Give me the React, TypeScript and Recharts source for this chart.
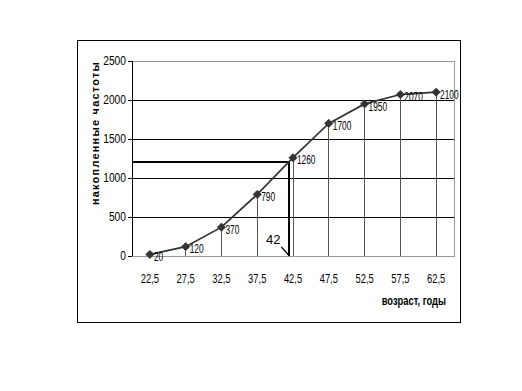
import React from 'react';
import {
  LineChart,
  Line,
  XAxis,
  YAxis,
  ReferenceLine,
  ReferenceArea,
  ReferenceDot,
  LabelList,
} from 'recharts';

const ages = [22.5, 27.5, 32.5, 37.5, 42.5, 47.5, 52.5, 57.5, 62.5];
const ageLabels = ['22,5', '27,5', '32,5', '37,5', '42,5', '47,5', '52,5', '57,5', '62,5'];
const cumulative = [20, 120, 370, 790, 1260, 1700, 1950, 2070, 2100];
const yTicks = [0, 500, 1000, 1500, 2000, 2500];
const gridValues = [500, 1000, 1500, 2000];
const classBounds = [20, 25, 30, 35, 40, 45, 50, 55, 60, 65];
const medianAge = 42;
const medianLabel = '42';
const halfCount = 1200;
const yTitle = 'накопленные частоты';
const xTitle = 'возраст, годы';

const data = ages.map((a, i) => ({ age: a, value: cumulative[i] }));

const SANS = "'Liberation Sans', Arial, sans-serif";

const CondensedText = (p: any) => (
  <text
    transform={`translate(${p.x},${p.y}) scale(${p.sx},1)`}
    x={0}
    y={0}
    textAnchor={p.anchor || 'start'}
    dominantBaseline={p.baseline || 'central'}
    fontSize={p.size || 12}
    fontWeight={p.bold ? 'bold' : 'normal'}
    fontFamily={SANS}
    fill="#000"
  >
    {p.children}
  </text>
);

const Diamond = (props: any) => {
  const { cx, cy } = props;
  if (cx == null || cy == null) return null;
  const s = 4;
  return (
    <path
      d={`M${cx},${cy - s}L${cx + s},${cy}L${cx},${cy + s}L${cx - s},${cy}Z`}
      fill="#333"
      stroke="#333"
    />
  );
};

const ValueLabel = (props: any) => {
  const { x, y, value } = props;
  return (
    <CondensedText x={x + 4} y={y + 2} sx={0.64} size={13}>
      {value}
    </CondensedText>
  );
};

const YTick = (props: any) => (
  <CondensedText x={props.x} y={props.y} sx={0.82} size={12.5} anchor="end">
    {props.payload.value}
  </CondensedText>
);

const XTick = (props: any) => {
  const v = props.payload.value;
  const label = ageLabels[ages.indexOf(v)] ?? String(v);
  return (
    <CondensedText x={props.x} y={props.y} sx={0.75} size={12.5} anchor="middle">
      {label}
    </CondensedText>
  );
};

const MedianCallout = (props: any) => {
  const vb = props.viewBox || {};
  const cx = vb.x + (vb.width || 0) / 2;
  const cy = vb.y + (vb.height || 0) / 2;
  return (
    <g>
      <line x1={cx - 8} y1={cy - 9} x2={cx} y2={cy} stroke="#000" strokeWidth={1.2} />
      <text x={cx - 9} y={cy - 12} textAnchor="end" fontSize={13} fontFamily={SANS} fill="#000">
        {medianLabel}
      </text>
    </g>
  );
};

export default function App() {
  return (
    <div style={{ position: 'absolute', left: 0, top: 0, width: 522, height: 391, background: '#fff' }}>
      <LineChart
        width={522}
        height={391}
        data={data}
        margin={{ top: 61, right: 68, left: 82, bottom: 95 }}
      >
        <rect x={77.5} y={40.5} width={383} height={282} fill="none" stroke="#000" strokeWidth={1} />
        <ReferenceArea
          xAxisId="bounds"
          x1={20}
          x2={65}
          y1={0}
          y2={2500}
          fill="none"
          stroke="#999"
          strokeWidth={1}
          fillOpacity={0}
          shapeRendering="crispEdges"
        />
        {gridValues.map((v) => (
          <ReferenceLine
            key={'g' + v}
            xAxisId="bounds"
            y={v}
            stroke="#000"
            strokeWidth={1}
            shapeRendering="crispEdges"
          />
        ))}
        {data.map((d) => (
          <ReferenceLine
            key={'d' + d.age}
            xAxisId="bounds"
            segment={[
              { x: d.age, y: 0 },
              { x: d.age, y: d.value },
            ]}
            stroke="#555"
            strokeWidth={1}
            shapeRendering="crispEdges"
          />
        ))}
        <ReferenceLine
          xAxisId="bounds"
          segment={[
            { x: 20, y: halfCount },
            { x: medianAge, y: halfCount },
          ]}
          stroke="#000"
          strokeWidth={2}
          shapeRendering="crispEdges"
        />
        <ReferenceLine
          xAxisId="bounds"
          segment={[
            { x: medianAge, y: halfCount },
            { x: medianAge, y: 0 },
          ]}
          stroke="#000"
          strokeWidth={2}
          shapeRendering="crispEdges"
        />
        <XAxis
          xAxisId="bounds"
          dataKey="age"
          type="number"
          domain={[20, 65]}
          ticks={classBounds}
          tick={false}
          tickSize={5}
          tickLine={{ stroke: '#000', shapeRendering: 'crispEdges' }}
          axisLine={{ stroke: '#000', shapeRendering: 'crispEdges' }}
          height={0}
          allowDataOverflow
        />
        <XAxis
          xAxisId="labels"
          dataKey="age"
          type="number"
          domain={[20, 65]}
          ticks={ages}
          axisLine={false}
          tickLine={false}
          tickSize={0}
          tickMargin={22}
          height={40}
          interval={0}
          tick={<XTick />}
        />
        <YAxis
          type="number"
          domain={[0, 2500]}
          ticks={yTicks}
          width={50}
          tickSize={4}
          tickMargin={2}
          interval={0}
          tickLine={{ stroke: '#000', shapeRendering: 'crispEdges' }}
          axisLine={{ stroke: '#000', shapeRendering: 'crispEdges' }}
          tick={<YTick />}
        />
        <Line
          xAxisId="bounds"
          type="linear"
          dataKey="value"
          stroke="#333"
          strokeWidth={1.7}
          dot={<Diamond />}
          activeDot={false}
          isAnimationActive={false}
        >
          <LabelList dataKey="value" content={<ValueLabel />} />
        </Line>
        <ReferenceDot
          xAxisId="bounds"
          x={medianAge}
          y={0}
          r={1}
          fill="none"
          stroke="none"
          label={<MedianCallout />}
        />
        <text
          x={95}
          y={133}
          transform="rotate(-90 95 133)"
          textAnchor="middle"
          dominantBaseline="central"
          fontSize={11}
          fontWeight="bold"
          letterSpacing={1.2}
          fontFamily={SANS}
          fill="#000"
        >
          {yTitle}
        </text>
        <CondensedText x={446} y={301} sx={0.78} size={12} bold anchor="end">
          {xTitle}
        </CondensedText>
      </LineChart>
    </div>
  );
}
